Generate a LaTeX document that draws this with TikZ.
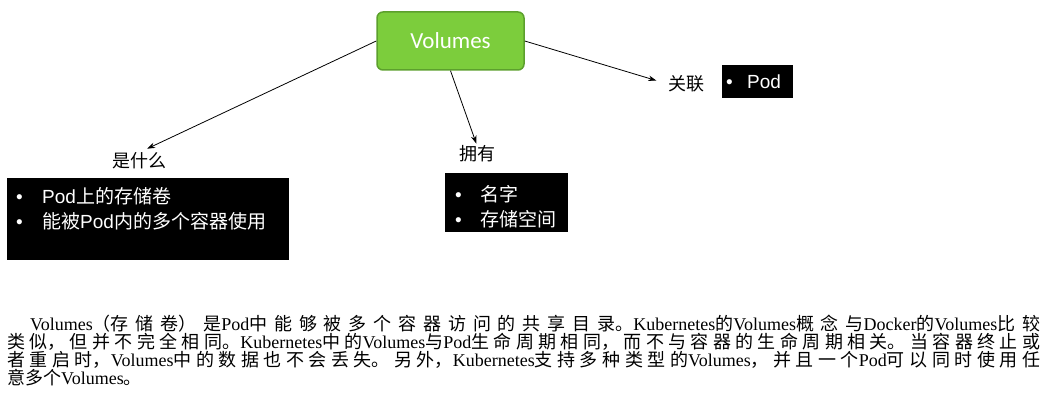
\documentclass[tikz,border=0pt]{standalone}
\usepackage{fontspec}
\setmainfont{Liberation Serif}
\setsansfont{Liberation Sans}
\newfontfamily\cjk{Noto Sans CJK SC}
\newfontfamily\calib{Carlito}
\usetikzlibrary{arrows.meta}
\XeTeXlinebreaklocale "zh"
\XeTeXlinebreakskip=0pt plus 6pt
\newcommand{\zh}[1]{{\cjk #1}}
\newcommand{\itm}[1]{\makebox[#1][l]{\textbullet}}
\definecolor{volfill}{RGB}{124,205,60}
\definecolor{voledge}{RGB}{92,160,45}
\begin{document}
\begin{tikzpicture}[x=1pt,y=-1pt,
	arr/.style={-{Stealth[length=8pt,width=5.5pt]},line width=0.8pt},
	lbl/.style={inner sep=0pt,font=\fontsize{18}{18}\selectfont\cjk},
	blk/.style={fill=black,text=white,anchor=north west,inner ysep=0pt,align=left,font=\fontsize{19}{25}\selectfont\sffamily}]
	\useasboundingbox (0,0) rectangle (1048,411);
	\node[draw=voledge,line width=1.5pt,fill=volfill,rounded corners=6pt,minimum width=147pt,minimum height=58pt,text=white,font=\fontsize{23}{23}\selectfont\calib] (vol) at (450.5,41) {Volumes};
	\node[lbl] (what) at (139,161) {是什么};
	\node[lbl] (have) at (477,154) {拥有};
	\node[lbl] (rel) at (686,84) {关联};
	\draw[arr,shorten >=9pt] (vol.west) -- (what.north);
	\draw[arr,shorten >=2pt] (vol.south) -- (have.north);
	\draw[arr,shorten >=12pt] (vol.east) -- (rel.west);
	\node[blk,text width=264pt,text height=25pt,text depth=57pt,inner xsep=9pt] (whatbox) at (7,178)
		{\itm{26pt}Pod\zh{上的存储卷}\\\itm{26pt}\zh{能被}Pod\zh{内的多个容器使用}};
	\node[blk,text width=103pt,text height=28pt,text depth=31pt,inner xsep=10pt] (havebox) at (445,173)
		{\itm{25pt}\zh{名字}\\\itm{25pt}\zh{存储空间}};
	\node[blk,text width=63pt,text height=23pt,text depth=10pt,inner xsep=4pt] (relbox) at (722,65)
		{\itm{21pt}Pod};
	% description below the diagram
	\node[anchor=base west,inner sep=0pt,text width=1033pt,align=justify,font=\fontsize{18}{18}\selectfont] (desc) at (7,330)
		{\hspace*{23pt}Volumes\zh{（存储卷）是}Pod\zh{中能够被多个容器访问的共享目录。}Kubernetes\zh{的}Volumes\zh{概念与}Docker\zh{的}Volumes\zh{比较}\linebreak\zh{类似，但并不完全相同。}Kubernetes\zh{中的}Volumes\zh{与}Pod\zh{生命周期相同，而不与容器的生命周期相关。当容器终止或}\linebreak\zh{者重启时，}Volumes\zh{中的数据也不会丢失。另外，}Kubernetes\zh{支持多种类型的}Volumes\zh{，并且一个}Pod\zh{可以同时使用任}\linebreak\zh{意多个}Volumes\zh{。}};
\end{tikzpicture}
\end{document}
